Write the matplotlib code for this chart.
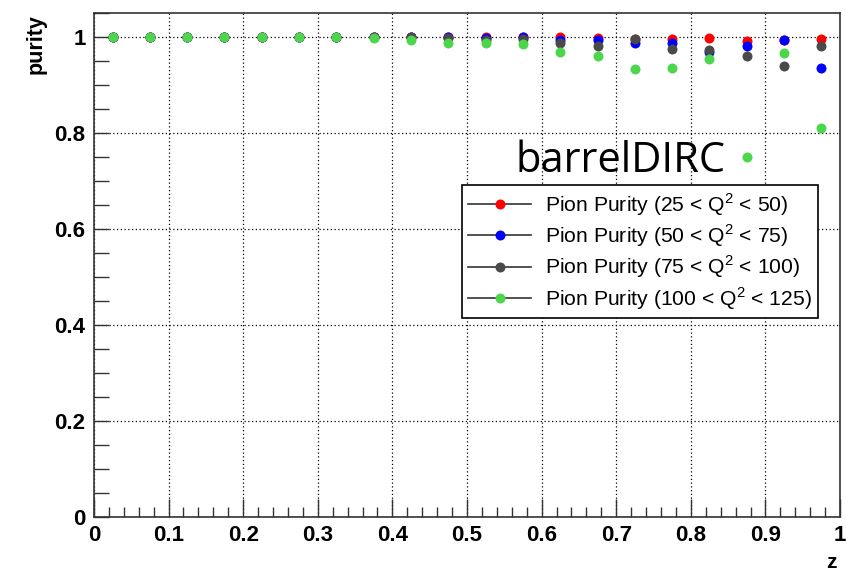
import numpy as np
import matplotlib
matplotlib.use('Agg')
import matplotlib.pyplot as plt
from matplotlib.ticker import MultipleLocator, FuncFormatter

z = [0.025, 0.075, 0.125, 0.175, 0.225, 0.275, 0.325, 0.375, 0.425, 0.475,
     0.525, 0.575, 0.625, 0.675, 0.725, 0.775, 0.825, 0.875, 0.925, 0.975]

purity_25_50 = [1.0, 1.0, 1.0, 1.0, 1.0, 1.0, 1.0, 1.0, 1.0, 1.0,
                1.0, 1.0, 1.0, 0.999, 0.995, 0.996, 0.999, 0.992, 0.994, 0.995]
purity_50_75 = [1.0, 1.0, 1.0, 1.0, 1.0, 1.0, 1.0, 1.0, 1.0, 1.0,
                0.998, 1.0, 0.994, 0.994, 0.988, 0.987, 0.968, 0.982, 0.994, 0.936]
purity_75_100 = [1.0, 1.0, 1.0, 1.0, 1.0, 1.0, 1.0, 1.0, 1.0, 0.997,
                 0.993, 0.995, 0.988, 0.981, 0.995, 0.975, 0.972, 0.961, 0.940, 0.981]
purity_100_125 = [1.0, 1.0, 1.0, 1.0, 1.0, 1.0, 1.0, 0.998, 0.994, 0.988,
                  0.988, 0.985, 0.969, 0.961, 0.933, 0.936, 0.955, 0.751, 0.966, 0.811]

labels = ['Pion Purity (25 < Q$^{2}$ < 50)',
          'Pion Purity (50 < Q$^{2}$ < 75)',
          'Pion Purity (75 < Q$^{2}$ < 100)',
          'Pion Purity (100 < Q$^{2}$ < 125)']
colors = ['#ff0000', '#0000ff', '#4a4a4a', '#4cd64c']
series = [purity_25_50, purity_50_75, purity_75_100, purity_100_125]

plt.rcParams['font.family'] = ['Liberation Sans', 'DejaVu Sans']
plt.rcParams['mathtext.fontset'] = 'custom'
plt.rcParams['mathtext.rm'] = 'Liberation Sans'

fig = plt.figure(figsize=(8.46, 5.74), dpi=100)
ax = fig.add_axes([0.111, 0.0993, 0.882, 0.8780])

# one marker-only series per Q^2 bin, green drawn last so it sits on top
for vals, col, lab in zip(series, colors, labels):
    ax.plot(z, vals, linestyle='none', marker='o', markersize=7.2,
            color=col, markeredgewidth=0, label=lab)

ax.set_xlim(0, 1)
ax.set_ylim(0, 1.05)
ax.xaxis.set_major_locator(MultipleLocator(0.1))
ax.xaxis.set_minor_locator(MultipleLocator(0.02))
ax.yaxis.set_major_locator(MultipleLocator(0.2))
ax.yaxis.set_minor_locator(MultipleLocator(0.05))
fmt = FuncFormatter(lambda v, p: '%g' % round(v, 2))
ax.xaxis.set_major_formatter(fmt)
ax.yaxis.set_major_formatter(fmt)

ax.tick_params(which='both', direction='in', top=False, right=False,
               width=1.0, color='#333333')
ax.tick_params(axis='x', which='major', length=13, pad=6)
ax.tick_params(axis='x', which='minor', length=7)
ax.tick_params(axis='y', which='both', length=11, pad=6)
for lab in ax.get_xticklabels() + ax.get_yticklabels():
    lab.set_fontweight('bold')
    lab.set_fontsize(16)

ax.grid(True, which='major', linestyle=(0, (1, 2)), color='black', linewidth=0.9)
for sp in ax.spines.values():
    sp.set_linewidth(1.2)
    sp.set_color('#333333')

fig.text(0.043, 0.975, 'purity', rotation=90, ha='center', va='top',
         fontsize=15.5, fontweight='bold')
fig.text(0.983, 0.003, 'z', ha='center', va='bottom',
         fontsize=15, fontweight='bold')

ax.text(0.565, 0.719, 'barrelDIRC', fontsize=30, family='Open Sans',
        ha='left', va='baseline')

handles = [plt.Line2D([], [], color='#333333', linewidth=1.2, marker='o',
                      markersize=7.2, markerfacecolor=c, markeredgewidth=0)
           for c in colors]
leg = ax.legend(handles, labels, loc='upper left',
                bbox_to_anchor=(0.493, 0.659), fontsize=15.2, frameon=True,
                fancybox=False, framealpha=1, edgecolor='black',
                handlelength=3.0, handletextpad=0.65, labelspacing=0.22,
                borderpad=0.3, borderaxespad=0)
leg.get_frame().set_linewidth(1.2)

plt.savefig('out.png', dpi=100)
